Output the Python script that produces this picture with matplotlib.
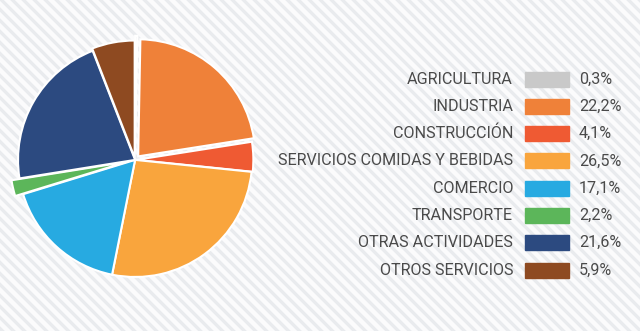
import numpy as np
import matplotlib.pyplot as plt
from matplotlib.patches import Rectangle

plt.rcParams['font.family'] = ['Roboto', 'DejaVu Sans']

sectores = ['AGRICULTURA', 'INDUSTRIA', 'CONSTRUCCIÓN', 'SERVICIOS COMIDAS Y BEBIDAS',
            'COMERCIO', 'TRANSPORTE', 'OTRAS ACTIVIDADES', 'OTROS SERVICIOS']
valores = [0.3, 22.2, 4.1, 26.5, 17.1, 2.2, 21.6, 5.9]
etiquetas = ['0,3%', '22,2%', '4,1%', '26,5%', '17,1%', '2,2%', '21,6%', '5,9%']
colores = ['#c9c9c9', '#ef8139', '#ef5a33', '#f9a53d', '#27aae1', '#5cb65a', '#2c4a80', '#8e4a21']
separar = [0.06, 0.04, 0.01, 0.0, 0.0, 0.07, 0.0, 0.02]

fig = plt.figure(figsize=(6.4, 3.31), dpi=100)

# fondo rayado
bg = fig.add_axes([0, 0, 1, 1])
bg.set_xlim(0, 640)
bg.set_ylim(0, 331)
bg.add_patch(Rectangle((0, 0), 640, 331, color='#e9ebee', zorder=0))
for x0 in np.arange(-400, 700, 11):
    bg.plot([x0, x0 + 331], [331, 0], color='white', lw=3.2, alpha=0.85, zorder=1)
bg.axis('off')

# pie
ax = fig.add_axes([-5.4 / 640, 30.6 / 331, 281 / 640, 281 / 331])
ax.pie(valores, colors=colores, startangle=90, counterclock=False, explode=separar,
       radius=1.0, wedgeprops=dict(edgecolor='white', linewidth=1.5))
ax.set_xlim(-1.2, 1.2)
ax.set_ylim(-1.2, 1.2)
ax.set_aspect('equal')
ax.axis('off')

# leyenda
y0 = 79
for i, (s, e, c) in enumerate(zip(sectores, etiquetas, colores)):
    y = y0 + i * 27.3
    fy = 1 - y / 331
    fig.text(513 / 640, fy, s, ha='right', va='center', fontsize=11.6, color='#4a4a4a')
    fig.patches.append(Rectangle((525 / 640, fy - 7.5 / 331), 44 / 640, 15 / 331,
                                 transform=fig.transFigure, color=c, figure=fig))
    fig.text(579 / 640, fy, e, ha='left', va='center', fontsize=11.6, color='#4a4a4a')

fig.savefig('out.png', dpi=100)
